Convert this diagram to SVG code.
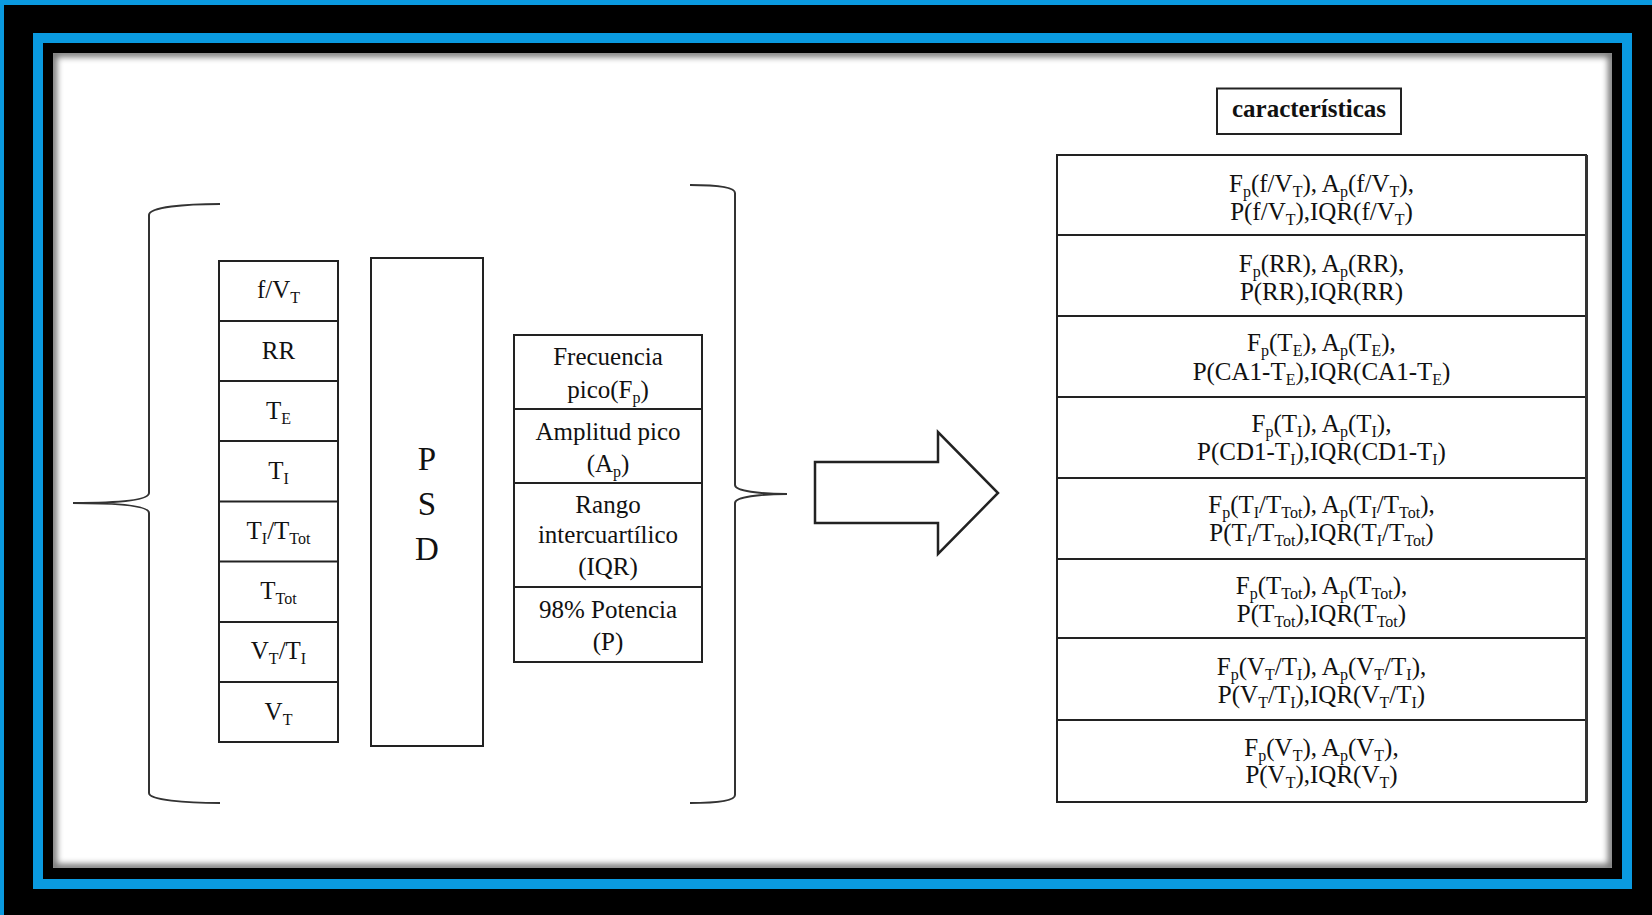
<svg xmlns="http://www.w3.org/2000/svg" width="1652" height="915" viewBox="0 0 1652 915">
  <style>
    .t { font-family: "Liberation Serif", Tinos, "Times New Roman", Times, "DejaVu Serif", serif; fill: #111; text-anchor: middle; font-size: 25px; }
    .psd { font-size: 33px; }
    .bold { font-weight: bold; }
    .s { font-size: 16px; baseline-shift: -5px; }
    .box { fill: #fff; stroke: #222; stroke-width: 2; }
    .ln { stroke: #222; stroke-width: 2; fill: none; }
    .brace { stroke: #333; stroke-width: 2; fill: none; }
  </style>
  <defs>
    <clipPath id="paper-clip"><rect x="53" y="53" width="1559" height="815"/></clipPath>
    <filter id="soft" x="-5%" y="-5%" width="110%" height="110%">
      <feGaussianBlur stdDeviation="3"/>
    </filter>
  </defs>

  <!-- frame -->
  <g id="frame">
    <rect x="0" y="0" width="1652" height="915" fill="#000"/>
    <rect x="0" y="0" width="1652" height="5" fill="#0a9ae0"/>
    <rect x="0" y="0" width="4" height="915" fill="#0a9ae0"/>
    <rect x="38" y="38" width="1589" height="846" fill="none" stroke="#0a9ae0" stroke-width="10"/>
    <rect x="53" y="53" width="1559" height="815" fill="#fff"/>
    <rect x="53" y="53" width="1559" height="815" fill="none" stroke="#000" stroke-width="8" opacity="0.55" filter="url(#soft)" clip-path="url(#paper-clip)"/>
  </g>

  <!-- connectors: braces and block arrow -->
  <g id="connectors">
    <path class="brace" d="M220,204 C185,204 149,207 149,215 L149,493 C149,500 120,503 73,503 C120,503 149,506 149,513 L149,793 C149,800 185,803 220,803"/>
    <path class="brace" d="M690,185 C715,185 735,187 735,193 L735,485 C735,491 760,494 787,494 C760,494 735,497 735,503 L735,795 C735,801 715,803 690,803"/>
    <polygon points="815,462 938,462 938,432 998,493 938,554 938,523 815,523" fill="#fff" stroke="#222" stroke-width="2.5" stroke-linejoin="miter"/>
  </g>

  <g font-family="'Liberation Serif', Tinos, 'Times New Roman', Times, 'DejaVu Serif', serif">
  <!-- input signals -->
  <g id="signals">
    <rect class="box" x="219" y="261" width="119" height="481"/>
    <path class="ln" d="M219,321 H338 M219,381 H338 M219,441 H338 M219,501.5 H338 M219,561.5 H338 M219,622 H338 M219,682 H338"/>
    <text class="t" x="278.5" y="298">f/V<tspan class="s">T</tspan></text>
    <text class="t" x="278.5" y="359">RR</text>
    <text class="t" x="278.5" y="419">T<tspan class="s">E</tspan></text>
    <text class="t" x="278.5" y="479">T<tspan class="s">I</tspan></text>
    <text class="t" x="278.5" y="539">T<tspan class="s">I</tspan>/T<tspan class="s">Tot</tspan></text>
    <text class="t" x="278.5" y="599">T<tspan class="s">Tot</tspan></text>
    <text class="t" x="278.5" y="659">V<tspan class="s">T</tspan>/T<tspan class="s">I</tspan></text>
    <text class="t" x="278.5" y="720">V<tspan class="s">T</tspan></text>
  </g>

  <!-- spectral density block -->
  <g id="psd">
    <rect class="box" x="371" y="258" width="112" height="488"/>
    <text class="t psd" x="427" y="470">P</text>
    <text class="t psd" x="427" y="515">S</text>
    <text class="t psd" x="427" y="560">D</text>
  </g>

  <!-- spectral measures -->
  <g id="measures">
    <rect class="box" x="514" y="335" width="188" height="327"/>
    <path class="ln" d="M514,409 H702 M514,483 H702 M514,587 H702"/>
    <text class="t" x="608" y="365">Frecuencia</text>
    <text class="t" x="608" y="398">pico(F<tspan class="s">p</tspan>)</text>
    <text class="t" x="608" y="440">Amplitud pico</text>
    <text class="t" x="608" y="472">(A<tspan class="s">p</tspan>)</text>
    <text class="t" x="608" y="513">Rango</text>
    <text class="t" x="608" y="543">intercuartílico</text>
    <text class="t" x="608" y="575">(IQR)</text>
    <text class="t" x="608" y="618">98% Potencia</text>
    <text class="t" x="608" y="650">(P)</text>
  </g>

  <!-- header -->
  <g id="header">
    <rect class="box" x="1217" y="88.5" width="184" height="45.5"/>
    <text class="t bold" x="1309" y="117">características</text>
  </g>

  <!-- feature table -->
  <g id="features">
    <rect class="box" x="1057" y="155" width="529" height="647"/>
    <path class="ln" d="M1057,235 H1586 M1057,316 H1586 M1057,397 H1586 M1057,478 H1586 M1057,559 H1586 M1057,638 H1586 M1057,720 H1586"/>
    <path d="M1586.5,155 V802" stroke="#333" stroke-width="3" fill="none"/>

    <text class="t" x="1321.5" y="192">F<tspan class="s">p</tspan>(f/V<tspan class="s">T</tspan>), A<tspan class="s">p</tspan>(f/V<tspan class="s">T</tspan>),</text>
    <text class="t" x="1321.5" y="220">P(f/V<tspan class="s">T</tspan>),IQR(f/V<tspan class="s">T</tspan>)</text>

    <text class="t" x="1321.5" y="272">F<tspan class="s">p</tspan>(RR), A<tspan class="s">p</tspan>(RR),</text>
    <text class="t" x="1321.5" y="300">P(RR),IQR(RR)</text>

    <text class="t" x="1321.5" y="351">F<tspan class="s">p</tspan>(T<tspan class="s">E</tspan>), A<tspan class="s">p</tspan>(T<tspan class="s">E</tspan>),</text>
    <text class="t" x="1321.5" y="380">P(CA1-T<tspan class="s">E</tspan>),IQR(CA1-T<tspan class="s">E</tspan>)</text>

    <text class="t" x="1321.5" y="432">F<tspan class="s">p</tspan>(T<tspan class="s">I</tspan>), A<tspan class="s">p</tspan>(T<tspan class="s">I</tspan>),</text>
    <text class="t" x="1321.5" y="460">P(CD1-T<tspan class="s">I</tspan>),IQR(CD1-T<tspan class="s">I</tspan>)</text>

    <text class="t" x="1321.5" y="513">F<tspan class="s">p</tspan>(T<tspan class="s">I</tspan>/T<tspan class="s">Tot</tspan>), A<tspan class="s">p</tspan>(T<tspan class="s">I</tspan>/T<tspan class="s">Tot</tspan>),</text>
    <text class="t" x="1321.5" y="541">P(T<tspan class="s">I</tspan>/T<tspan class="s">Tot</tspan>),IQR(T<tspan class="s">I</tspan>/T<tspan class="s">Tot</tspan>)</text>

    <text class="t" x="1321.5" y="594">F<tspan class="s">p</tspan>(T<tspan class="s">Tot</tspan>), A<tspan class="s">p</tspan>(T<tspan class="s">Tot</tspan>),</text>
    <text class="t" x="1321.5" y="622">P(T<tspan class="s">Tot</tspan>),IQR(T<tspan class="s">Tot</tspan>)</text>

    <text class="t" x="1321.5" y="675">F<tspan class="s">p</tspan>(V<tspan class="s">T</tspan>/T<tspan class="s">I</tspan>), A<tspan class="s">p</tspan>(V<tspan class="s">T</tspan>/T<tspan class="s">I</tspan>),</text>
    <text class="t" x="1321.5" y="703">P(V<tspan class="s">T</tspan>/T<tspan class="s">I</tspan>),IQR(V<tspan class="s">T</tspan>/T<tspan class="s">I</tspan>)</text>

    <text class="t" x="1321.5" y="756">F<tspan class="s">p</tspan>(V<tspan class="s">T</tspan>), A<tspan class="s">p</tspan>(V<tspan class="s">T</tspan>),</text>
    <text class="t" x="1321.5" y="783">P(V<tspan class="s">T</tspan>),IQR(V<tspan class="s">T</tspan>)</text>
  </g>
  </g>
</svg>
